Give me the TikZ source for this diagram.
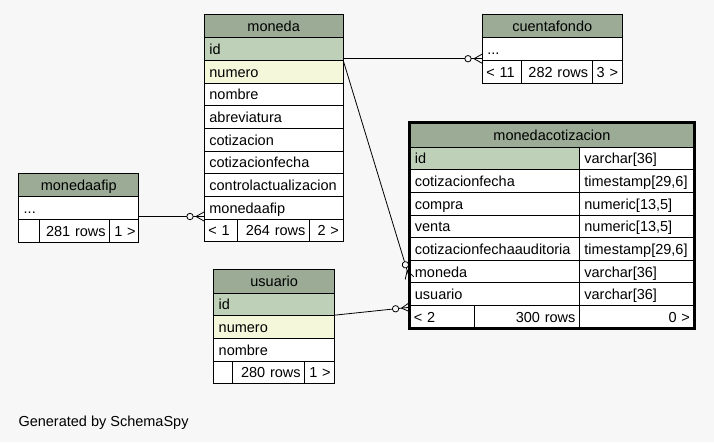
\documentclass[tikz,border=0pt]{standalone}
\usepackage{fontspec}
\setmainfont{Liberation Sans}
\usetikzlibrary{decorations.markings}
\definecolor{bgcol}{HTML}{F7F7F7}
\definecolor{hdrcol}{HTML}{9BAB96}
\definecolor{pkcol}{HTML}{BED1B8}
\definecolor{idxcol}{HTML}{F4F7DA}
\begin{document}
\begin{tikzpicture}[x=1pt, y=-1pt,
    every node/.style = {font=\fontsize{14.5}{17}\selectfont, inner ysep=0pt},
    cell/.style  = {draw, line width=0.8pt, fill=white, anchor=north west,
      inner xsep=5pt, text height=12pt, text depth=1pt,
      minimum height=22.6pt, align=left},
    hdr/.style   = {cell, fill=hdrcol, align=center, minimum height=23.4pt},
    foot/.style  = {cell, inner xsep=4pt},
    rt/.style    = {foot, align=right},
    pk/.style    = {fill=pkcol},
    idx/.style   = {fill=idxcol},
    plain/.style = {},
    fk/.style    = {line width=0.8pt, postaction={decorate},
      decoration={markings, mark=at position 1 with {
        \draw[line width=0.8pt] (-8pt,0) -- (0,4.5pt) (-8pt,0) -- (0,-4.5pt);
        \draw[line width=0.8pt, fill=bgcol] (-14pt,0) circle (3.2pt);}}},
  ]
  \path[use as bounding box, fill=bgcol] (0,0) rectangle (714,442);

  \node[hdr, text width=128.5pt, minimum height=23.3pt] (moneda) at (204,14) {moneda};
  \foreach \c/\s [count=\i from 0] in {id/pk, numero/idx, nombre/plain,
      abreviatura/plain, cotizacion/plain, cotizacionfecha/plain,
      controlactualizacion/plain, monedaafip/plain}
    \node[cell, \s, text width=128.5pt] (moneda-\c) at (204,{37.3+22.67*\i}) {\c};
  \node[foot, text width=25pt] (moneda-foot1) at (204,218.7) {< 1};
  \node[rt, text width=64pt] (moneda-foot2) at (237,218.7) {264 rows};
  \node[rt, text width=25.5pt] (moneda-foot3) at (309,218.7) {2~>};

  \node[hdr, text width=129.7pt, minimum height=23.7pt] (cf) at (482,13.6) {cuentafondo};
  \node[cell, text width=129.7pt, minimum height=22.7pt] (cf-dots) at (482,37.3) {...};
  \node[foot, text width=31pt] (cf-foot1) at (482,60) {< 11};
  \node[rt, text width=62.7pt] (cf-foot2) at (521,60) {282 rows};
  \node[rt, text width=22pt] (cf-foot3) at (591.7,60) {3~>};

  \node[hdr, text width=110pt, minimum height=23.7pt] (ma) at (18.3,172.6) {monedaafip};
  \node[cell, text width=110pt, minimum height=22.9pt] (ma-dots) at (18.3,196.3) {...};
  \node[foot, text width=12.7pt] (ma-foot1) at (18.3,219.2) {};
  \node[rt, text width=62.3pt] (ma-foot2) at (39,219.2) {281 rows};
  \node[rt, inner xsep=3pt, text width=23pt] (ma-foot3) at (109.3,219.2) {1~>};

  \node[hdr, text width=111pt] (us) at (213.3,269.3) {usuario};
  \foreach \c/\s [count=\i from 0] in {id/pk, numero/idx, nombre/plain}
    \node[cell, \s, text width=111pt] (us-\c) at (213.3,{292.7+22.6*\i}) {\c};
  \node[foot, text width=11pt] (us-foot1) at (213.3,360.5) {};
  \node[rt, text width=64pt] (us-foot2) at (232.3,360.5) {280 rows};
  \node[rt, text width=22pt] (us-foot3) at (304.3,360.5) {1~>};

  \node[hdr, text width=274pt, minimum height=24.4pt] (mc) at (409.5,122.3) {monedacotizacion};
  \foreach \c/\t/\s [count=\i from 0] in {id/{varchar[36]}/pk,
      cotizacionfecha/{timestamp[29,6]}/plain, compra/{numeric[13,5]}/plain,
      venta/{numeric[13,5]}/plain, cotizacionfechaauditoria/{timestamp[29,6]}/plain,
      moneda/{varchar[36]}/plain, usuario/{varchar[36]}/plain}
  {
    \node[cell, \s, text width=159.5pt] (mc-\c) at (409.5,{146.7+22.62*\i}) {\c};
    \node[cell, text width=104.5pt] (mc-\c-type) at (579,{146.7+22.62*\i}) {\t};
  }
  \node[foot, text width=56.5pt] (mc-foot1) at (409.5,305) {< 2};
  \node[rt, text width=97pt] (mc-foot2) at (474,305) {300 rows};
  \node[rt, text width=106.5pt] (mc-foot3) at (579,305) {0~>};

  \coordinate (cf-in) at ([yshift=2pt]moneda-id.south east);
  \draw[fk] (cf-in) -- (cf-in -| cf-dots.west);
  \coordinate (ma-out) at ([yshift=3.5pt]ma-dots.south east);
  \draw[fk] (ma-out) -- (ma-out -| moneda-monedaafip.west);
  \draw[fk] (moneda-id.south east) -- ([yshift=5pt]mc-moneda.south west);
  \draw[fk] ([yshift=1pt]us-id.south east) -- ([yshift=-1.5pt]mc-usuario.south west);

  \draw[line width=3pt] (mc.north west) rectangle (mc-foot3.south east);

  \node[anchor=base west, inner sep=0pt] (gen) at (18.3,426.7) {Generated by SchemaSpy};
\end{tikzpicture}
\end{document}
